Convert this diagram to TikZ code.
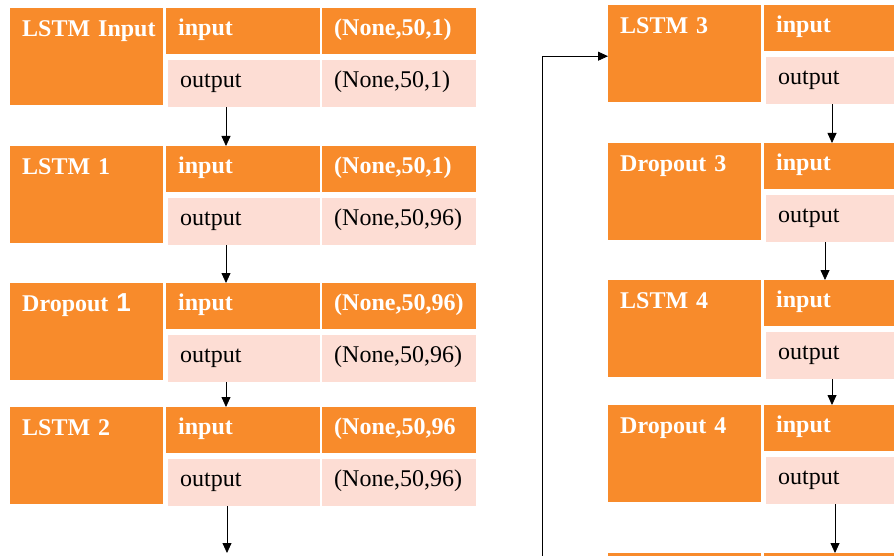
\documentclass[tikz,border=0pt]{standalone}
\usepackage{fontspec}
\setmainfont{Liberation Serif}
\newfontfamily\sansbf{Liberation Sans}
\usetikzlibrary{arrows.meta}
\newcommand{\bxfont}{\fontsize{24pt}{28pt}\selectfont}

\begin{document}
\begin{tikzpicture}[x=1pt, y=-1pt,
				every text node part/.style={align=left},
				cell/.style={anchor=north west, inner xsep=12pt, inner ysep=0pt, text height=27pt},
				namebox/.style={cell, fill=orng, text=white, font=\bxfont\bfseries, text width=129pt, text height=28pt, text depth=69pt},
				inbox/.style={cell, fill=orng, text=white, font=\bxfont\bfseries, text depth=19pt},
				outbox/.style={cell, fill=pnk, text=black, font=\bxfont, text depth=20pt},
				arrow/.style={-{Triangle[width=9pt,length=10pt]}, line width=0.8pt}]

					\definecolor{orng}{RGB}{248,139,43}
					\definecolor{pnk}{RGB}{253,221,212}

					\path[use as bounding box, clip] (0,0) rectangle (894,556);
					\fill[white] (0,0) rectangle (894,556);

					% left column
					\node[namebox] (inname) at (10,8) {\mbox{LSTM Input}};
					\node[inbox, text width=130pt] (inin) at (166,8) {input};
					\node[inbox, text width=130pt] (ininv) at (322,8) {(None,50,1)};
					\node[outbox, text width=128pt] (inout) at (168,60) {output};
					\node[outbox, text width=130pt] (inoutv) at (322,60) {(None,50,1)};

					\node[namebox] (l1name) at (10,146) {LSTM 1};
					\node[inbox, text width=130pt] (l1in) at (166,146) {input};
					\node[inbox, text width=130pt] (l1inv) at (322,146) {(None,50,1)};
					\node[outbox, text width=128pt] (l1out) at (168,198) {output};
					\node[outbox, text width=130pt] (l1outv) at (322,198) {(None,50,96)};

					\node[namebox] (d1name) at (10,283) {Dropout {\sansbf\fontsize{26pt}{28pt}\selectfont 1}};
					\node[inbox, text width=130pt] (d1in) at (166,283) {input};
					\node[inbox, text width=130pt] (d1inv) at (322,283) {(None,50,96)};
					\node[outbox, text width=128pt] (d1out) at (168,335) {output};
					\node[outbox, text width=130pt] (d1outv) at (322,335) {(None,50,96)};

					\node[namebox] (l2name) at (10,407) {LSTM 2};
					\node[inbox, text width=130pt] (l2in) at (166,407) {input};
					\node[inbox, text width=130pt] (l2inv) at (322,407) {(None,50,96};
					\node[outbox, text width=128pt] (l2out) at (168,459) {output};
					\node[outbox, text width=130pt] (l2outv) at (322,459) {(None,50,96)};

					% right column
					\node[namebox] (l3name) at (608,5) {LSTM 3};
					\node[inbox, text width=132pt] (l3in) at (764,5) {input};
					\node[outbox, text width=130pt] (l3out) at (766,57) {output};

					\node[namebox] (d3name) at (608,143) {Dropout 3};
					\node[inbox, text width=132pt] (d3in) at (764,143) {input};
					\node[outbox, text width=130pt] (d3out) at (766,195) {output};

					\node[namebox] (l4name) at (608,280) {LSTM 4};
					\node[inbox, text width=132pt] (l4in) at (764,280) {input};
					\node[outbox, text width=130pt] (l4out) at (766,332) {output};

					\node[namebox] (d4name) at (608,405) {Dropout 4};
					\node[inbox, text width=132pt] (d4in) at (764,405) {input};
					\node[outbox, text width=130pt] (d4out) at (766,457) {output};

					\node[namebox] (nxname) at (608,553) {};
					\node[inbox, text width=132pt] (nxin) at (764,553) {};

					\coordinate (endl) at (227,553);
					\coordinate (fb) at (542,560);

					\draw[arrow] ([xshift=58pt]inout.south west) -- ([xshift=60pt]l1in.north west);
					\draw[arrow] ([xshift=58pt]l1out.south west) -- ([xshift=60pt]d1in.north west);
					\draw[arrow] ([xshift=58pt]d1out.south west) -- ([xshift=60pt]l2in.north west);
					\draw[arrow] ([xshift=59pt]l2out.south west) -- (endl);
					\draw[arrow] (fb) |- ([yshift=-2.5pt]l3name.west);
					\draw[arrow] ([xshift=66pt]l3out.south west) -- ([xshift=68pt]d3in.north west);
					\draw[arrow] ([xshift=59pt]d3out.south west) -- ([xshift=61pt]l4in.north west);
					\draw[arrow] ([xshift=66pt]l4out.south west) -- ([xshift=68pt]d4in.north west);
					\draw[arrow] ([xshift=69pt]d4out.south west) -- ([xshift=71pt]nxin.north west);
				\end{tikzpicture}
\end{document}
